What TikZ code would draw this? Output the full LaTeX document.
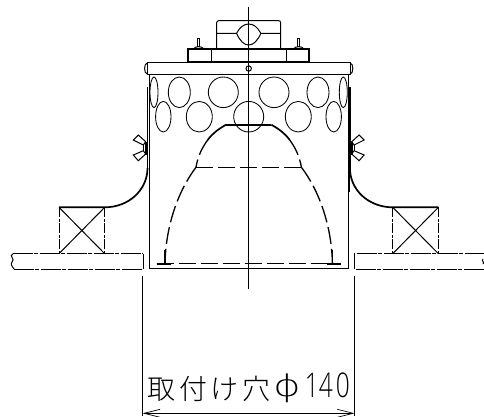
\documentclass[tikz,border=0pt]{standalone}
\usepackage{fontspec}
\usetikzlibrary{arrows.meta}
\newfontfamily\cjkfont{Noto Sans CJK JP Light}
\newfontfamily\numfont{Open Sans Light}
\newfontfamily\phifont{DejaVu Sans ExtraLight}
\newcommand{\tallnum}[1]{\raisebox{1.5pt}{\scalebox{0.72}[1]{\fontsize{34}{34}\numfont #1}}}
\tikzset{
  thinline/.style={line width=0.7pt},
  midline/.style={line width=1pt},
  heavyline/.style={line width=1.7pt},
  sillline/.style={line width=0.9pt,dash pattern=on 20pt off 1.5pt on 4pt off 1.5pt},
  lampline/.style={line width=1.2pt,dash pattern=on 17pt off 5pt},
  holeline/.style={line width=0.85pt}
}
\begin{document}
\begin{tikzpicture}[x=1pt,y=-1pt]
  \useasboundingbox (0,0) rectangle (484,416);
  % centre line
  \draw[midline] (248.7,7) -- (248.7,289);
  % clamp on top
  \draw[midline,rounded corners=2pt] (216.7,48) -- (216.7,20.7) -- (280.7,20.7) -- (280.7,48);
  \draw[midline] (216.7,33.3) -- (236.5,33.3) .. controls (240,27) and (244,24) .. (248.7,24)
     .. controls (253.4,24) and (257.4,27) .. (260.9,33.3) -- (280.7,33.3);
  \draw[midline] (236.5,33.3) .. controls (240,41) and (244,45) .. (248.7,45)
     .. controls (253.4,45) and (257.4,41) .. (260.9,33.3);
  % plate and flange
  \draw[heavyline] (187.7,48.7) rectangle (309.3,62.3);
  \draw[midline] (147.3,62.3) rectangle (350,74.7);
  \draw[midline] (248.7,68.5) circle [radius=2.7];
  % body
  \draw[midline] (149.3,74.7) -- (149.3,268.7) -- (348,268.7) -- (348,74.7);
  % holes, upper row
  \foreach \hx/\hr in {154/4,179.3/11,223.3/15,274/15,318/11,343.3/4}
    \draw[holeline] (\hx,92.3) ellipse [x radius=\hr,y radius=15.3];
  % holes, lower row
  \foreach \hx/\hr in {163.3/7.7,199.3/13,248.7/15,298.3/13,333.7/7.7}
    \draw[holeline] (\hx,116.7) ellipse [x radius=\hr,y radius=15.3];
  % lamp
  \draw[heavyline] (226,124.7) -- (271.4,124.7);
  \draw[lampline] (196,167.3) -- (302,167.3);
  \draw[lampline] (156.7,263.7) -- (340,263.7);
  % both sides
  \foreach \s in {1,-1} {
    \begin{scope}[xshift=248.7pt,xscale=\s]
      \draw[midline] (-37.7,48.7) -- (-37.7,62.3);
      \draw[heavyline] (-22.7,124.7) .. controls (-30,129) and (-36,133) .. (-41,140);
      \draw[lampline,line width=1.3pt] (-41,140) .. controls (-47,148) and (-51,157) .. (-52.7,167.3);
      \draw[lampline,line width=1.3pt] (-52.7,167.3) .. controls (-70,190) and (-83,225) .. (-83.7,263.7);
      \draw[heavyline] (-83.7,250) -- (-83.7,263.7);
      \draw[heavyline] (-92,263.7) -- (-78,263.7);
      \draw[thinline] (-49,46.5) -- (-49,38) -- (-51,38) -- (-51,46.5);
      \draw[midline] (-55,48.7) .. controls (-53,46) and (-47,46) .. (-45,48.7);
      \draw[midline] (-101.4,63) .. controls (-105,63) and (-105,74) .. (-101.4,74);
      \draw[heavyline] (-101.2,87) -- (-101.2,168);
      % wall bracket
      \draw[heavyline] (-189.7,207.3) -- (-144,207.3) .. controls (-120,207.3) and (-101.2,190) .. (-101.2,168);
      \draw[midline] (-189.7,207.3) -- (-144,253.7);
      \draw[midline] (-144,207.3) -- (-189.7,253.7);
      \draw[midline,dash pattern=on 10pt off 1.5pt on 3pt off 1.5pt] (-189.7,207.3) -- (-189.7,253.7);
      \draw[midline,dash pattern=on 10pt off 1.5pt on 3pt off 1.5pt] (-144,207.3) -- (-144,253.7);
      % wing nut
      \draw[midline,fill=white] (-115.4,140) -- (-110.4,135) -- (-103,141.7) -- (-105.4,145) -- cycle;
      \draw[midline,fill=white] (-115.4,155) -- (-110.4,160.7) -- (-103,154) -- (-105.4,150.7) -- cycle;
      \draw[midline] (-105.4,145) -- (-105.4,150.7);
      \draw[heavyline,line width=2.4pt] (-102.6,142) -- (-102.6,155);
      % sill
      \draw[sillline] (-236,253.7) -- (-105.7,253.7);
      \draw[sillline] (-235,269) -- (-105.7,269);
      \draw[midline] (-105.7,253.7) -- (-105.7,269);
      % dimension line
      \coordinate (dimend\ifnum\s=1 L\else R\fi) at (-106,413.3);
      \draw[thinline] (-106,276) -- (-106,416);
    \end{scope}
  }
  \draw[heavyline] (349.5,168) -- (349.5,192);
  % break lines
  \draw[midline] (13,253.7) .. controls (8,256) and (16,259) .. (12,262) .. controls (10,265) and (13,267) .. (14,269);
  \draw[midline] (483,259) .. controls (481,261) and (485,262) .. (483,264);
  \draw[thinline,{Straight Barb[length=16pt,width=8pt]}-{Straight Barb[length=16pt,width=8pt]}] (dimendL) -- (dimendR);
  \node[anchor=base west,inner sep=0pt] (holelabel) at (147.5,399)
    {\fontsize{28}{28}\cjkfont 取\hspace{3.5pt}付\hspace{3.5pt}け\hspace{3.5pt}穴\hspace{3pt}\raisebox{2.5pt}{\scalebox{1.4}[1]{\fontsize{30}{30}\phifont ϕ}}\hspace{4pt}\tallnum{1}\hspace{0pt}\tallnum{4}\hspace{3pt}\tallnum{0}};
\end{tikzpicture}
\end{document}
